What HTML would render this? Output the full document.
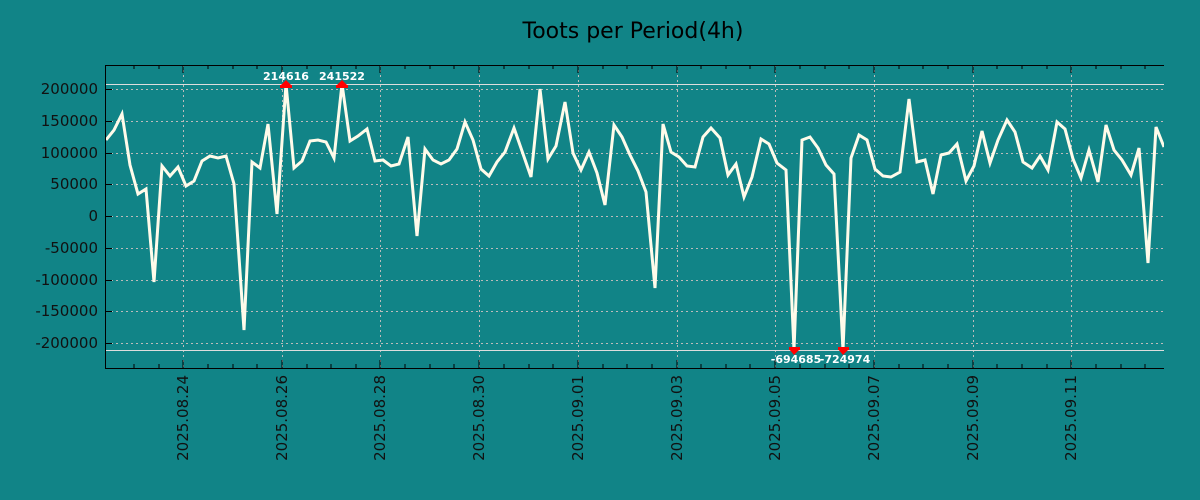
<!DOCTYPE html>
<html><head><meta charset="utf-8"><style>
body{margin:0;background:#118487;}
svg{display:block;font-family:"DejaVu Sans","Liberation Sans",sans-serif;}
</style></head><body>
<svg width="1200" height="500" viewBox="0 0 1200 500">
<rect width="1200" height="500" fill="#118487"/>
<text x="633" y="38" text-anchor="middle" font-size="22" fill="#000">Toots per Period(4h)</text>
<g stroke="#bbbbbb" stroke-dasharray="2,3" stroke-width="1">
<line x1="106" x2="1164" y1="89.5" y2="89.5"/><line x1="106" x2="1164" y1="121.5" y2="121.5"/><line x1="106" x2="1164" y1="153.5" y2="153.5"/><line x1="106" x2="1164" y1="184.5" y2="184.5"/><line x1="106" x2="1164" y1="216.5" y2="216.5"/><line x1="106" x2="1164" y1="248.5" y2="248.5"/><line x1="106" x2="1164" y1="280.5" y2="280.5"/><line x1="106" x2="1164" y1="311.5" y2="311.5"/><line x1="106" x2="1164" y1="343.5" y2="343.5"/>
<line y1="65" y2="368" x1="183.5" x2="183.5"/><line y1="65" y2="368" x1="282.5" x2="282.5"/><line y1="65" y2="368" x1="380.5" x2="380.5"/><line y1="65" y2="368" x1="479.5" x2="479.5"/><line y1="65" y2="368" x1="578.5" x2="578.5"/><line y1="65" y2="368" x1="677.5" x2="677.5"/><line y1="65" y2="368" x1="775.5" x2="775.5"/><line y1="65" y2="368" x1="874.5" x2="874.5"/><line y1="65" y2="368" x1="973.5" x2="973.5"/><line y1="65" y2="368" x1="1071.5" x2="1071.5"/>
</g>
<line x1="106" x2="1164" y1="84.5" y2="84.5" stroke="#dddddd"/>
<line x1="106" x2="1164" y1="350.5" y2="350.5" stroke="#dddddd"/>
<g stroke="#000" stroke-width="1">
<line x1="105.5" y1="65" x2="105.5" y2="368.5"/>
<line x1="105" y1="65.5" x2="1164" y2="65.5"/>
<line x1="105" y1="368.5" x2="1164" y2="368.5"/>
<path d="M159,368v-4M208,368v-4M233,368v-4M257,368v-4M307,368v-4M331,368v-4M356,368v-4M405,368v-4M430,368v-4M454,368v-4M504,368v-4M529,368v-4M553,368v-4M603,368v-4M627,368v-4M652,368v-4M701,368v-4M726,368v-4M750,368v-4M800,368v-4M825,368v-4M849,368v-4M899,368v-4M923,368v-4M948,368v-4M997,368v-4M1022,368v-4M1047,368v-4M1096,368v-4M1121,368v-4M1145,368v-4M134,368v-4M183,368v-8M282,368v-8M380,368v-8M479,368v-8M578,368v-8M677,368v-8M775,368v-8M874,368v-8M973,368v-8M1071,368v-8"/>
<path d="M159,65v4M208,65v4M233,65v4M257,65v4M307,65v4M331,65v4M356,65v4M405,65v4M430,65v4M454,65v4M504,65v4M529,65v4M553,65v4M603,65v4M627,65v4M652,65v4M701,65v4M726,65v4M750,65v4M800,65v4M825,65v4M849,65v4M899,65v4M923,65v4M948,65v4M997,65v4M1022,65v4M1047,65v4M1096,65v4M1121,65v4M1145,65v4M134,65v4M183,65v8M282,65v8M380,65v8M479,65v8M578,65v8M677,65v8M775,65v8M874,65v8M973,65v8M1071,65v8"/>
<path d="M106,89.5h6M106,121.5h6M106,153.5h6M106,184.5h6M106,216.5h6M106,248.5h6M106,280.5h6M106,311.5h6M106,343.5h6"/>
</g>
<g font-size="15" fill="#111" text-anchor="end">
<text x="98" y="94">200000</text><text x="98" y="126">150000</text><text x="98" y="158">100000</text><text x="98" y="189">50000</text><text x="98" y="221">0</text><text x="98" y="253">-50000</text><text x="98" y="285">-100000</text><text x="98" y="316">-150000</text><text x="98" y="348">-200000</text>
</g>
<g font-size="15" fill="#111" text-anchor="end">
<text transform="translate(188,375) rotate(-90)">2025.08.24</text>
<text transform="translate(287,375) rotate(-90)">2025.08.26</text>
<text transform="translate(385,375) rotate(-90)">2025.08.28</text>
<text transform="translate(484,375) rotate(-90)">2025.08.30</text>
<text transform="translate(583,375) rotate(-90)">2025.09.01</text>
<text transform="translate(682,375) rotate(-90)">2025.09.03</text>
<text transform="translate(780,375) rotate(-90)">2025.09.05</text>
<text transform="translate(879,375) rotate(-90)">2025.09.07</text>
<text transform="translate(978,375) rotate(-90)">2025.09.09</text>
<text transform="translate(1076,375) rotate(-90)">2025.09.11</text>
</g>
<svg x="106" y="65" width="1058" height="303" viewBox="106 65 1058 303" overflow="hidden">
<polyline fill="none" stroke="#fffbea" stroke-width="3" stroke-linejoin="miter" points="106,140 114,130 122,114 130,165 138,194 146,189 154,282 162,166 170,176 178,167 186,186 194,181 202,161 210,156 218,158 226,156 234,184 244,330 252,162 260,168 268,124 277,214 286,84 294,168 302,161 310,141 318,140 326,142 334,158 342,84 350,141 358,136 367,129 375,161 383,160 391,166 399,164 408,137 417,236 425,149 433,160 441,164 449,160 457,149 465,122 473,140 481,169 489,176 497,162 505,152 514,128 522,151 531,177 540,89 548,159 556,146 565,102 573,153 581,170 589,152 597,173 605,205 614,125 622,137 630,155 638,171 646,192 655,288 663,124 671,152 679,157 687,166 695,167 703,137 711,128 720,138 728,175 736,164 744,197 752,177 761,139 769,144 777,163 786,170 794,350 802,140 810,137 818,148 826,165 834,174 843,350 851,158 859,135 867,140 875,169 883,176 891,177 900,172 909,99 917,162 925,160 933,194 941,155 949,153 957,144 966,181 974,166 982,131 990,163 998,140 1007,120 1015,132 1023,162 1032,168 1040,156 1048,170 1057,122 1065,129 1073,159 1081,178 1089,150 1098,182 1106,125 1114,150 1122,160 1131,175 1139,148 1148,263 1156,127 1164,147"/>
</svg>
<g fill="#ff0000">
<path d="M286,80 L292,86 L280,86Z"/><rect x="280" y="85" width="12" height="3"/>
<path d="M342,80 L348,86 L336,86Z"/><rect x="336" y="85" width="12" height="3"/>
<rect x="789" y="347" width="11" height="3"/><path d="M789,349 L800,349 L794,355Z"/>
<rect x="838" y="347" width="11" height="3"/><path d="M838,349 L849,349 L843,355Z"/>
</g>
<g font-size="11" font-weight="bold" fill="#fff" text-anchor="middle">
<text x="286" y="80">214616</text><text x="342" y="80">241522</text>
<text x="796" y="363">-694685</text><text x="845" y="363">-724974</text>
</g>
</svg>
</body></html>
